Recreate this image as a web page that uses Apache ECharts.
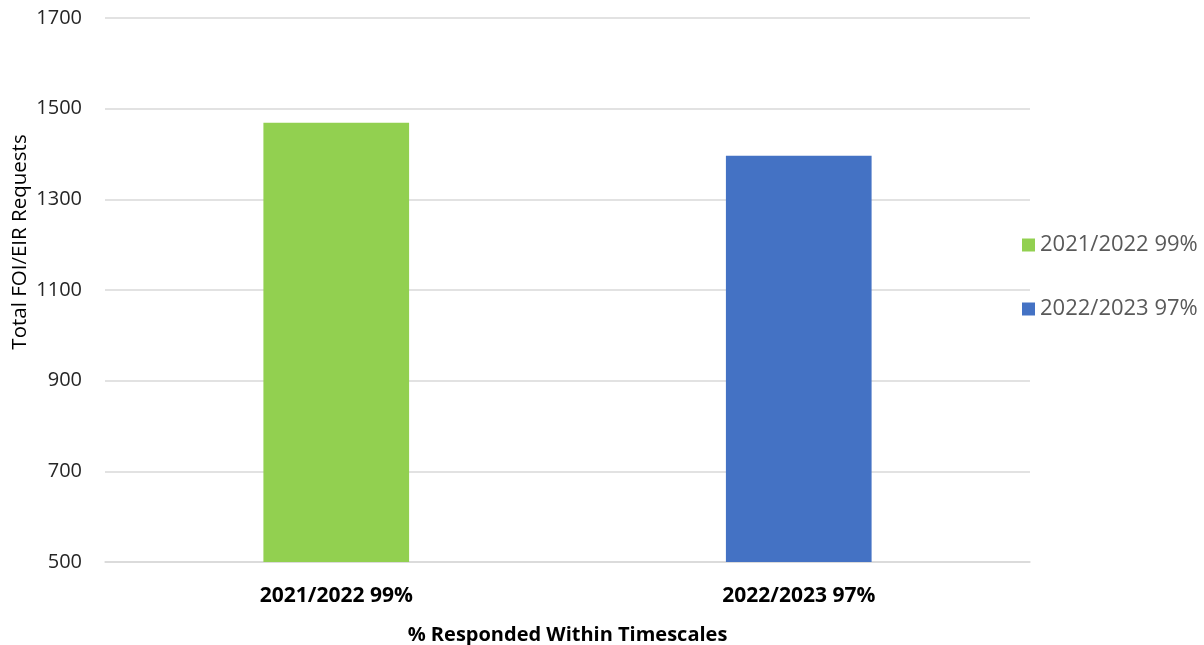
<!DOCTYPE html>
<html>
<head>
<meta charset="utf-8">
<script src="https://cdn.jsdelivr.net/npm/echarts@6/dist/echarts.min.js"></script>
<style>
html,body{margin:0;padding:0;background:#fff;}
#chart{width:1204px;height:645px;}
</style>
</head>
<body>
<div id="chart"></div>
<script>
const categories = ['2021/2022 99%', '2022/2023 97%'];
const seriesNames = ['2021/2022 99%', '2022/2023 97%'];
const values = [1469, 1396];
const colors = ['#92d050', '#4472c4'];
const yTicks = { min: 500, max: 1700, interval: 200 };
const xTitle = '% Responded Within Timescales';
const yTitle = 'Total FOI/EIR Requests';

const FONT = '"Open Sans", sans-serif';
const chart = echarts.init(document.getElementById('chart'), null, { renderer: 'canvas' });

const series = seriesNames.map((name, i) => ({
  name: name,
  type: 'bar',
  stack: 'all',
  barWidth: '31.5%',
  itemStyle: { color: colors[i] },
  data: categories.map((c, j) => (j === i ? values[i] : null))
}));

chart.setOption({
  animation: false,
  backgroundColor: '#ffffff',
  grid: { left: 105, right: 174, top: 18, bottom: 83, containLabel: false, outerBoundsMode: 'none' },
  legend: {
    orient: 'vertical',
    left: 1022,
    top: 234,
    padding: 0,
    itemGap: 42,
    itemWidth: 13,
    itemHeight: 13,
    icon: 'rect',
    data: seriesNames,
    textStyle: { fontFamily: FONT, fontSize: 22, lineHeight: 22, color: '#595959' }
  },
  xAxis: {
    type: 'category',
    data: categories,
    name: xTitle,
    nameLocation: 'middle',
    nameGap: 63,
    nameTextStyle: { fontFamily: FONT, fontSize: 20, fontWeight: 'bold', color: '#000000' },
    axisLine: { show: true, lineStyle: { color: '#d9d9d9', width: 1.5 } },
    axisTick: { show: false },
    axisLabel: { fontFamily: FONT, fontSize: 21, fontWeight: 'bold', color: '#000000', margin: 24 }
  },
  yAxis: {
    type: 'value',
    min: yTicks.min,
    max: yTicks.max,
    interval: yTicks.interval,
    axisLine: { show: false },
    axisTick: { show: false },
    splitLine: { lineStyle: { color: '#d9d9d9', width: 1.5 } },
    axisLabel: { fontFamily: FONT, fontSize: 20, color: '#262626', margin: 23, formatter: v => String(v) }
  },
  graphic: [{
    type: 'text',
    x: 20,
    y: 242,
    rotation: Math.PI / 2,
    style: { text: yTitle, fontFamily: FONT, fontSize: 20.5, fill: '#000000', align: 'center', verticalAlign: 'middle' }
  }],
  series: series
});
</script>
</body>
</html>
